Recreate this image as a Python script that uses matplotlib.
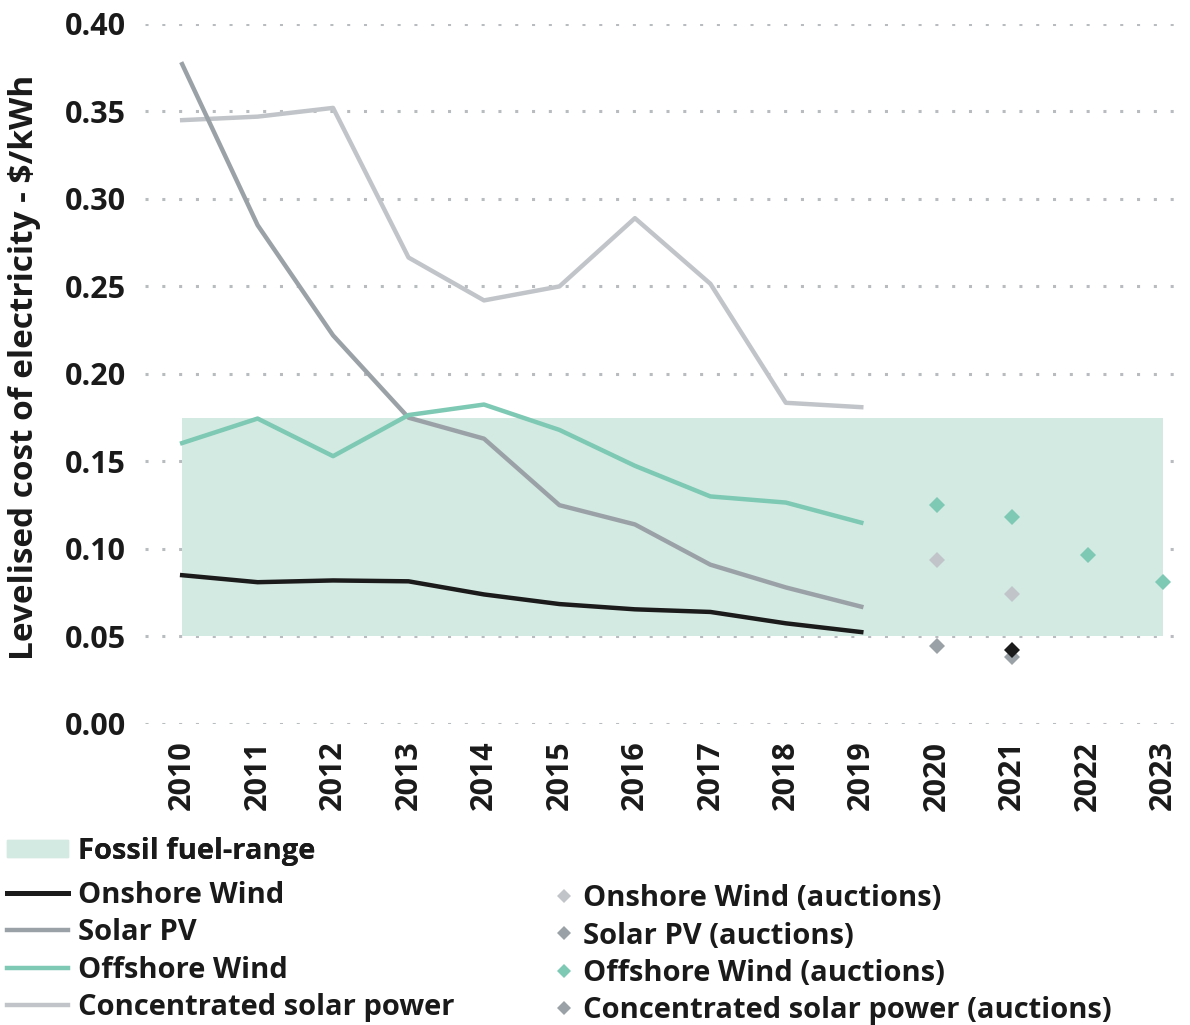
import matplotlib.pyplot as plt
from matplotlib.lines import Line2D
from matplotlib.patches import Patch

# data ($/kWh)
years = [2010, 2011, 2012, 2013, 2014, 2015, 2016, 2017, 2018, 2019]
onshoreWind = [0.085, 0.081, 0.082, 0.0815, 0.074, 0.0685, 0.0655, 0.064, 0.0575, 0.0525]
solarPV = [0.377, 0.285, 0.222, 0.175, 0.163, 0.125, 0.114, 0.091, 0.078, 0.067]
offshoreWind = [0.1605, 0.1745, 0.153, 0.1765, 0.1825, 0.168, 0.1475, 0.130, 0.1265, 0.115]
csp = [0.345, 0.347, 0.352, 0.2665, 0.242, 0.250, 0.289, 0.2515, 0.1835, 0.181]

offshoreAuctionYears = [2020, 2021, 2022, 2023]
offshoreAuction = [0.125, 0.118, 0.0965, 0.081]
onshoreAuctionYears = [2020, 2021]
onshoreAuction = [0.0935, 0.0745]
solarAuctionYears = [2020, 2021]
solarAuction = [0.0445, 0.0385]
cspAuctionYears = [2021]
cspAuction = [0.042]

fossilRange = (0.05, 0.175)
allYears = list(range(2010, 2024))
yTicks = [0.0, 0.05, 0.10, 0.15, 0.20, 0.25, 0.30, 0.35, 0.40]

# colours
black = '#1b1b1b'
grey = '#9ba2a7'
teal = '#7dc9b3'
lightGrey = '#c1c5c9'
fossilCol = '#d3eae2'
textCol = '#1a1a1a'

plt.rcParams['font.family'] = ['Open Sans', 'DejaVu Sans']
plt.rcParams['font.weight'] = 'bold'

fig = plt.figure(figsize=(11.9, 10.25), dpi=100)
ax = fig.add_axes([0.122, 0.2937, 0.870, 0.683])

ax.fill_between([2010, 2023], fossilRange[0], fossilRange[1], color=fossilCol,
                linewidth=0, zorder=1)

lw = 3.2
ax.plot(years, csp, color=lightGrey, lw=lw, zorder=3)
ax.plot(years, solarPV, color=grey, lw=lw, zorder=4)
ax.plot(years, offshoreWind, color=teal, lw=lw, zorder=5)
ax.plot(years, onshoreWind, color=black, lw=lw, zorder=6)

ms = 8.5
ax.plot(offshoreAuctionYears, offshoreAuction, 'D', color=teal, ms=ms, mew=0, zorder=7)
ax.plot(onshoreAuctionYears, onshoreAuction, 'D', color=lightGrey, ms=ms, mew=0, zorder=7)
ax.plot(solarAuctionYears, solarAuction, 'D', color=grey, ms=ms, mew=0, zorder=7)
ax.plot(cspAuctionYears, cspAuction, 'D', color=black, ms=ms, mew=0, zorder=8)

ax.set_xlim(2009.51, 2023.23)
ax.set_ylim(0, 0.40)
ax.set_yticks(yTicks)
ax.set_yticklabels(['%.2f' % v for v in yTicks])
ax.set_xticks(allYears)
ax.set_xticklabels([str(y) for y in allYears], rotation=90)
ax.tick_params(axis='both', length=0, labelsize=22, labelcolor=textCol)
ax.tick_params(axis='x', pad=12)
ax.tick_params(axis='y', pad=14)
for s in ax.spines.values():
    s.set_visible(False)
ax.yaxis.grid(True, linestyle=(0, (1, 4.5)), color='#b8bcbf', linewidth=2.2, zorder=0)
ax.set_axisbelow(True)

fig.text(0.021, 0.6415, 'Levelised cost of electricity - $/kWh', rotation=90,
         ha='center', va='center', fontsize=24, color=textCol, fontweight='bold')

# legends
legFont = 21
fossilLeg = fig.legend(handles=[Patch(color=fossilCol)], labels=['Fossil fuel-range'],
                       loc='upper left', bbox_to_anchor=(0.006, 0.1835), frameon=False,
                       fontsize=legFont, handlelength=2.1, handleheight=0.5,
                       handletextpad=0.33, borderpad=0, borderaxespad=0,
                       labelcolor=textCol)

lineHandles = [Line2D([], [], color=black, lw=lw + 0.4),
               Line2D([], [], color=grey, lw=lw),
               Line2D([], [], color=teal, lw=lw),
               Line2D([], [], color=lightGrey, lw=lw)]
lineLabels = ['Onshore Wind', 'Solar PV', 'Offshore Wind', 'Concentrated solar power']
fig.legend(handles=lineHandles, labels=lineLabels, loc='upper left',
           bbox_to_anchor=(0.006, 0.1405), frameon=False, fontsize=legFont,
           handlelength=2.1, handletextpad=0.33, labelspacing=0.29,
           borderpad=0, borderaxespad=0, labelcolor=textCol)

markerHandles = [Line2D([], [], ls='', marker='D', color=lightGrey, ms=7, mew=0),
                 Line2D([], [], ls='', marker='D', color=grey, ms=7, mew=0),
                 Line2D([], [], ls='', marker='D', color=teal, ms=7, mew=0),
                 Line2D([], [], ls='', marker='D', color=grey, ms=7, mew=0)]
markerLabels = ['Onshore Wind (auctions)', 'Solar PV (auctions)',
                'Offshore Wind (auctions)', 'Concentrated solar power (auctions)']
fig.legend(handles=markerHandles, labels=markerLabels, loc='upper left',
           bbox_to_anchor=(0.466, 0.1375), frameon=False, fontsize=legFont,
           handlelength=0.65, handletextpad=0.33, labelspacing=0.29,
           borderpad=0, borderaxespad=0, labelcolor=textCol)
fig.add_artist(fossilLeg)

fig.savefig('out.png', dpi=100)
